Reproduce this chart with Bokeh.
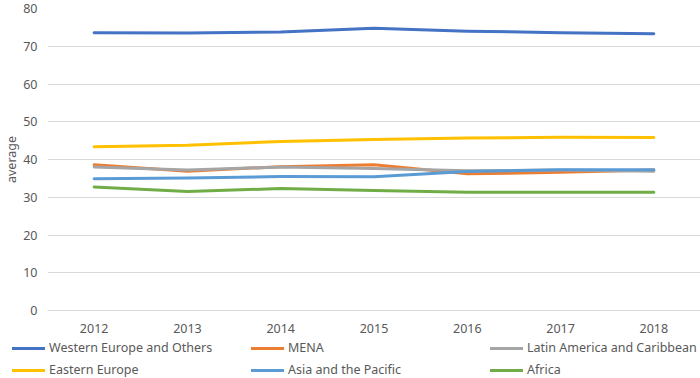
from bokeh.plotting import figure
from bokeh.models import Legend, LegendItem, FixedTicker, Range1d
from bokeh.layouts import column
from bokeh.embed import file_html
from bokeh.resources import INLINE

years = [2012, 2013, 2014, 2015, 2016, 2017, 2018]
western_europe = [73.6, 73.5, 73.8, 74.8, 74.0, 73.6, 73.3]
mena = [38.6, 36.9, 38.1, 38.6, 36.2, 36.6, 37.2]
latin_america = [38.0, 37.2, 38.0, 37.6, 37.0, 37.2, 36.9]
eastern_europe = [43.4, 43.8, 44.8, 45.3, 45.7, 45.9, 45.8]
asia_pacific = [34.9, 35.1, 35.5, 35.4, 36.8, 37.3, 37.3]
africa = [32.7, 31.5, 32.3, 31.8, 31.3, 31.3, 31.3]
y_ticks = [0, 10, 20, 30, 40, 50, 60, 70, 80]

series = [
    ("Western Europe and Others", western_europe, "#4472C4"),
    ("MENA", mena, "#ED7D31"),
    ("Latin America and Caribbean", latin_america, "#A5A5A5"),
    ("Eastern Europe", eastern_europe, "#FFC000"),
    ("Asia and the Pacific", asia_pacific, "#5B9BD5"),
    ("Africa", africa, "#70AD47"),
]
# legend fills columns first; this order gives the reference's row-wise layout
legend_order = [0, 3, 1, 4, 2, 5]

FONT = "Noto Sans"
TXT = "#595959"
FS = "12.5px"

p = figure(width=700, height=338, output_backend="svg", toolbar_location=None,
           x_range=Range1d(2011.5, 2018.5), y_range=Range1d(0, 80),
           min_border_top=8, min_border_right=0, min_border_left=10, min_border_bottom=28)
p.outline_line_color = None
p.background_fill_color = "white"
p.frame_align = False

for name, vals, col in series:
    p.line(years, vals, line_color=col, line_width=3, line_join="round", line_cap="round")

p.xgrid.grid_line_color = None
p.ygrid.grid_line_color = "#D9D9D9"
p.ygrid.grid_line_width = 1
p.yaxis.ticker = FixedTicker(ticks=y_ticks)
p.xaxis.ticker = FixedTicker(ticks=years)

for ax in (p.xaxis[0], p.yaxis[0]):
    ax.major_tick_line_color = None
    ax.minor_tick_line_color = None
    ax.major_tick_in = 0
    ax.major_tick_out = 0
    ax.major_label_text_color = TXT
    ax.major_label_text_font = FONT
    ax.major_label_text_font_size = FS
p.yaxis.axis_line_color = None
p.xaxis.axis_line_color = "#D9D9D9"
p.yaxis.major_label_standoff = 10
p.xaxis.major_label_standoff = 13
p.yaxis.axis_label = "average"
p.yaxis.axis_label_text_font = FONT
p.yaxis.axis_label_text_font_size = FS
p.yaxis.axis_label_text_font_style = "normal"
p.yaxis.axis_label_text_color = TXT
p.yaxis.axis_label_standoff = 0

# legend strip (its lines lie outside its ranges; only the legend keys show)
lg = figure(width=700, height=40, output_backend="svg", toolbar_location=None,
            x_range=Range1d(0, 1), y_range=Range1d(0, 1),
            min_border=0, x_axis_location=None, y_axis_location=None)
lg.outline_line_color = None
lg.grid.grid_line_color = None
lg.frame_align = False
rends = []
for name, vals, col in series:
    r = lg.line(years, vals, line_color=col, line_width=3, line_cap="round")
    rends.append(LegendItem(label=name, renderers=[r]))
items = [rends[i] for i in legend_order]

legend = Legend(items=items, ncols=3, location=(12, 0),
                glyph_width=33, glyph_height=14, label_height=14,
                label_width=197, label_standoff=4, spacing=5, padding=0, margin=0,
                label_text_font=FONT, label_text_font_size=FS,
                label_text_color=TXT, background_fill_alpha=0,
                border_line_color=None)
lg.add_layout(legend, "center")

layout = column(p, lg, spacing=0)
open("out.html", "w").write(file_html(layout, INLINE))
